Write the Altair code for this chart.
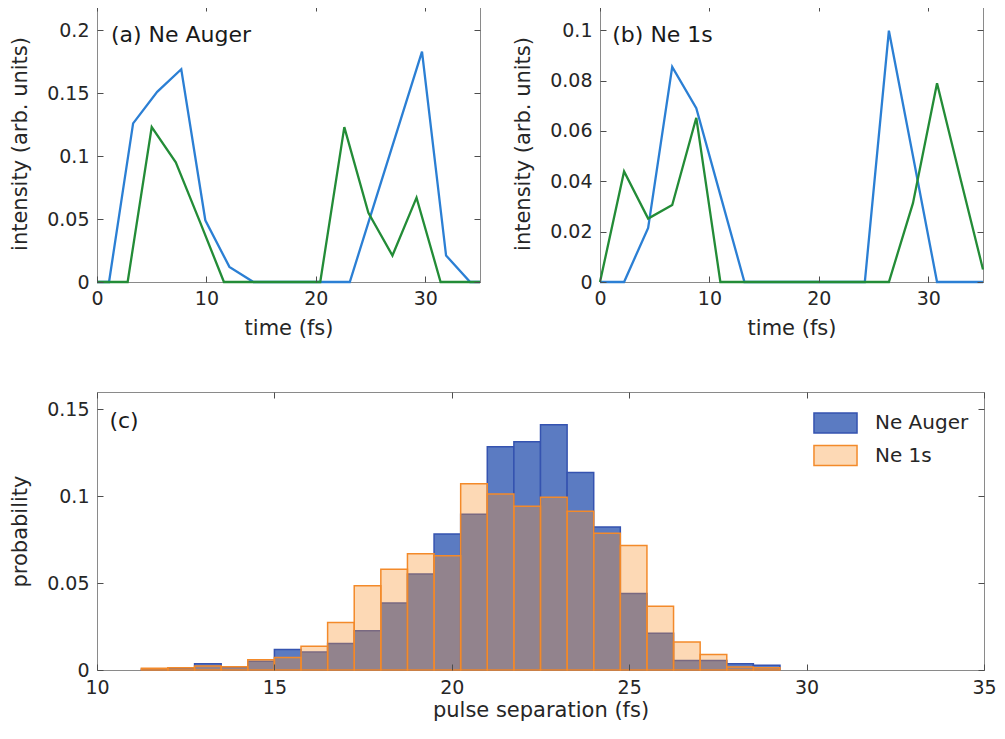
import altair as alt
import pandas as pd

# ---------------- data ----------------
# (a) Ne Auger : intensity vs time
a_blue_t = [0, 1.1, 3.3, 5.5, 7.7, 9.9, 12.1, 14.3, 16.5, 18.7, 20.9, 23.1, 25.3, 27.5, 29.7, 31.9, 34.1, 35]
a_blue_v = [0, 0, 0.126, 0.151, 0.169, 0.049, 0.012, 0, 0, 0, 0, 0, 0.061, 0.122, 0.183, 0.021, 0, 0]
a_green_t = [0, 2.8, 5.0, 7.2, 9.4, 11.6, 13.8, 16.0, 18.2, 20.4, 22.6, 24.8, 27.0, 29.2, 31.4, 33.6, 35]
a_green_v = [0, 0, 0.123, 0.095, 0.048, 0, 0, 0, 0, 0, 0.123, 0.055, 0.021, 0.067, 0, 0, 0]

# (b) Ne 1s : intensity vs time
b_t = [0, 2.2, 4.4, 6.6, 8.8, 11.0, 13.2, 15.4, 17.6, 19.8, 22.0, 24.2, 26.4, 28.6, 30.8, 33.0, 35]
b_blue_v = [0, 0, 0.0215, 0.0854, 0.069, 0.0345, 0, 0, 0, 0, 0, 0, 0.0998, 0.05, 0, 0, 0]
b_green_v = [0, 0.0439, 0.0252, 0.0306, 0.0652, 0, 0, 0, 0, 0, 0, 0, 0, 0.0313, 0.0789, 0.040, 0.005]

# (c) histogram of pulse separation
bin_start = [11.25, 12.0, 12.75, 13.5, 14.25, 15.0, 15.75, 16.5, 17.25, 18.0, 18.75, 19.5,
             20.25, 21.0, 21.75, 22.5, 23.25, 24.0, 24.75, 25.5, 26.25, 27.0, 27.75, 28.5]
bin_end = [12.0, 12.75, 13.5, 14.25, 15.0, 15.75, 16.5, 17.25, 18.0, 18.75, 19.5, 20.25,
           21.0, 21.75, 22.5, 23.25, 24.0, 24.75, 25.5, 26.25, 27.0, 27.75, 28.5, 29.25]
prob_auger = [0.0004, 0.0012, 0.0036, 0.0017, 0.0051, 0.0118, 0.0103, 0.0152, 0.0226, 0.0386, 0.0553, 0.0783,
              0.0897, 0.1285, 0.1313, 0.1412, 0.1136, 0.0823, 0.0441, 0.0211, 0.0055, 0.0055, 0.0036, 0.0027]
prob_1s = [0.0010, 0.0013, 0.0023, 0.0019, 0.0059, 0.0072, 0.0137, 0.0274, 0.0485, 0.0580, 0.0669, 0.0657,
           0.1072, 0.1013, 0.0943, 0.0994, 0.0914, 0.0787, 0.0716, 0.0367, 0.0161, 0.0089, 0.0017, 0.0013]
series_names = ["Ne Auger", "Ne 1s"]

# tick values
time_ticks = [0, 10, 20, 30]
a_yticks = [0, 0.05, 0.1, 0.15, 0.2]
b_yticks = [0, 0.02, 0.04, 0.06, 0.08, 0.1]
c_xticks = [10, 15, 20, 25, 30, 35]
c_yticks = [0, 0.05, 0.1, 0.15]

# panel labels (text, anchor in data coordinates)
panel_labels = ["(a) Ne Auger", "(b) Ne 1s", "(c)"]
label_x = [1.27, 1.12, 10.35]
label_y = [0.1958, 0.0979, 0.1435]

# ---------------- styling ----------------
FONT = "DejaVu Sans"
TXT = "#262626"
BLUE_LINE = "#2b7fd4"
GREEN_LINE = "#238c37"
TW, TH = 383, 277
CW, CH = 887, 278


def axis_set(W, H, xvals, yvals, xtitle, ytitle, xlabpad, xtitlepad):
    main = (
        alt.Axis(values=xvals, orient="bottom", ticks=False, domain=False, grid=False,
                 labelFlush=False, labelPadding=xlabpad, title=xtitle, titlePadding=xtitlepad),
        alt.Axis(values=yvals, orient="left", format="~g", ticks=False, domain=False, grid=False,
                 labelPadding=8, title=ytitle, titlePadding=16),
    )
    inner1 = (
        alt.Axis(values=xvals, orient="top", offset=-H, labels=False, domain=False, ticks=True,
                 tickSize=6, grid=False, title=None, zindex=1),
        alt.Axis(values=yvals, orient="right", offset=-W, labels=False, domain=False, ticks=True,
                 tickSize=6, grid=False, title=None, zindex=1),
    )
    inner2 = (
        alt.Axis(values=xvals, orient="bottom", offset=-H, labels=False, domain=False, ticks=True,
                 tickSize=6, grid=False, title=None, zindex=1),
        alt.Axis(values=yvals, orient="left", offset=-W, labels=False, domain=False, ticks=True,
                 tickSize=6, grid=False, title=None, zindex=1),
    )
    return [main, inner1, inner2]


def line_panel(t1, v1, t2, v2, ymax, yticks, idx):
    xs = alt.Scale(domain=[0, 35], nice=False, zero=False)
    ys = alt.Scale(domain=[0, ymax], nice=False)
    ax = axis_set(TW, TH, time_ticks, yticks, "time (fs)", "intensity (arb. units)", 7, 9)
    d1 = pd.DataFrame({"t": t1, "v": v1})
    d2 = pd.DataFrame({"t": t2, "v": v2})
    dl = pd.DataFrame({"x": [label_x[idx]], "y": [label_y[idx]], "label": [panel_labels[idx]]})
    l1 = alt.Chart(d1).mark_line(color=BLUE_LINE, strokeWidth=2.3).encode(
        x=alt.X("t:Q", scale=xs, axis=ax[0][0]),
        y=alt.Y("v:Q", scale=ys, axis=ax[0][1]),
    )
    l2 = alt.Chart(d2).mark_line(color=GREEN_LINE, strokeWidth=2.3).encode(
        x=alt.X("t:Q", scale=xs, axis=ax[1][0]),
        y=alt.Y("v:Q", scale=ys, axis=ax[1][1]),
    )
    l3 = alt.Chart(dl).mark_text(align="left", baseline="middle", font=FONT, fontSize=22, color="#1a1a1a").encode(
        x=alt.X("x:Q", scale=xs, axis=ax[2][0]),
        y=alt.Y("y:Q", scale=ys, axis=ax[2][1]),
        text="label:N",
    )
    return alt.layer(l1, l2, l3).resolve_axis(x="independent", y="independent").properties(width=TW, height=TH)


pa = line_panel(a_blue_t, a_blue_v, a_green_t, a_green_v, 0.22, a_yticks, 0)
pb = line_panel(b_t, b_blue_v, b_t, b_green_v, 0.11, b_yticks, 1)

# histogram panel
hist_a = pd.DataFrame({"start": bin_start, "end": bin_end, "prob": prob_auger, "series": series_names[0]})
hist_b = pd.DataFrame({"start": bin_start, "end": bin_end, "prob": prob_1s, "series": series_names[1]})
lab_c = pd.DataFrame({"x": [label_x[2]], "y": [label_y[2]], "label": [panel_labels[2]]})

cx = alt.Scale(domain=[10, 35], nice=False, zero=False)
cy = alt.Scale(domain=[0, 0.16], nice=False)
cax = axis_set(CW, CH, c_xticks, c_yticks, "pulse separation (fs)", "probability", 8, 2)

leg = alt.Legend(
    orient="none", legendX=727, legendY=406.5, padding=0, title=None,
    symbolType="M-2.05,-0.95H2.05V0.95H-2.05Z", symbolSize=441, symbolStrokeWidth=1.5,
    symbolOpacity=1, rowPadding=5.5, labelOffset=28, labelFont=FONT, labelFontSize=20,
    labelColor=TXT, labelLimit=300,
)
fill_enc = alt.Fill("series:N", scale=alt.Scale(domain=series_names,
                                                range=["#5b7bc2", "rgba(249,146,44,0.35)"]), legend=leg)
stroke_enc = alt.Stroke("series:N", scale=alt.Scale(domain=series_names, range=["#3553b0", "#f38a2a"]), legend=leg)

c1 = alt.Chart(hist_a).mark_bar(strokeWidth=1.5, fillOpacity=1).encode(
    x=alt.X("start:Q", scale=cx, axis=cax[0][0]), x2="end:Q",
    y=alt.Y("prob:Q", scale=cy, axis=cax[0][1]), y2=alt.datum(0),
    fill=fill_enc, stroke=stroke_enc,
)
c2 = alt.Chart(hist_b).mark_bar(strokeWidth=1.5, fillOpacity=1).encode(
    x=alt.X("start:Q", scale=cx, axis=cax[1][0]), x2="end:Q",
    y=alt.Y("prob:Q", scale=cy, axis=cax[1][1]), y2=alt.datum(0),
    fill=fill_enc, stroke=stroke_enc,
)
c3 = alt.Chart(lab_c).mark_text(align="left", baseline="middle", font=FONT, fontSize=22, color="#1a1a1a").encode(
    x=alt.X("x:Q", scale=cx, axis=cax[2][0]),
    y=alt.Y("y:Q", scale=cy, axis=cax[2][1]),
    text="label:N",
)
pc = alt.layer(c1, c2, c3).resolve_axis(x="independent", y="independent").properties(width=CW, height=CH)

chart = alt.vconcat(
    alt.hconcat(pa, pb, spacing=26),
    pc,
    spacing=52,
).properties(
    padding={"left": 1, "top": -4, "right": 0, "bottom": 0},
    background="white",
).configure_view(
    stroke="#8a8a8a", strokeWidth=1,
).configure_axis(
    labelFont=FONT, labelFontSize=19, labelColor=TXT,
    titleFont=FONT, titleFontSize=21, titleFontWeight="normal", titleColor=TXT,
    tickColor="#4d4d4d", tickWidth=1,
)

chart.save("out.html", embed_options={"renderer": "svg", "actions": False})
